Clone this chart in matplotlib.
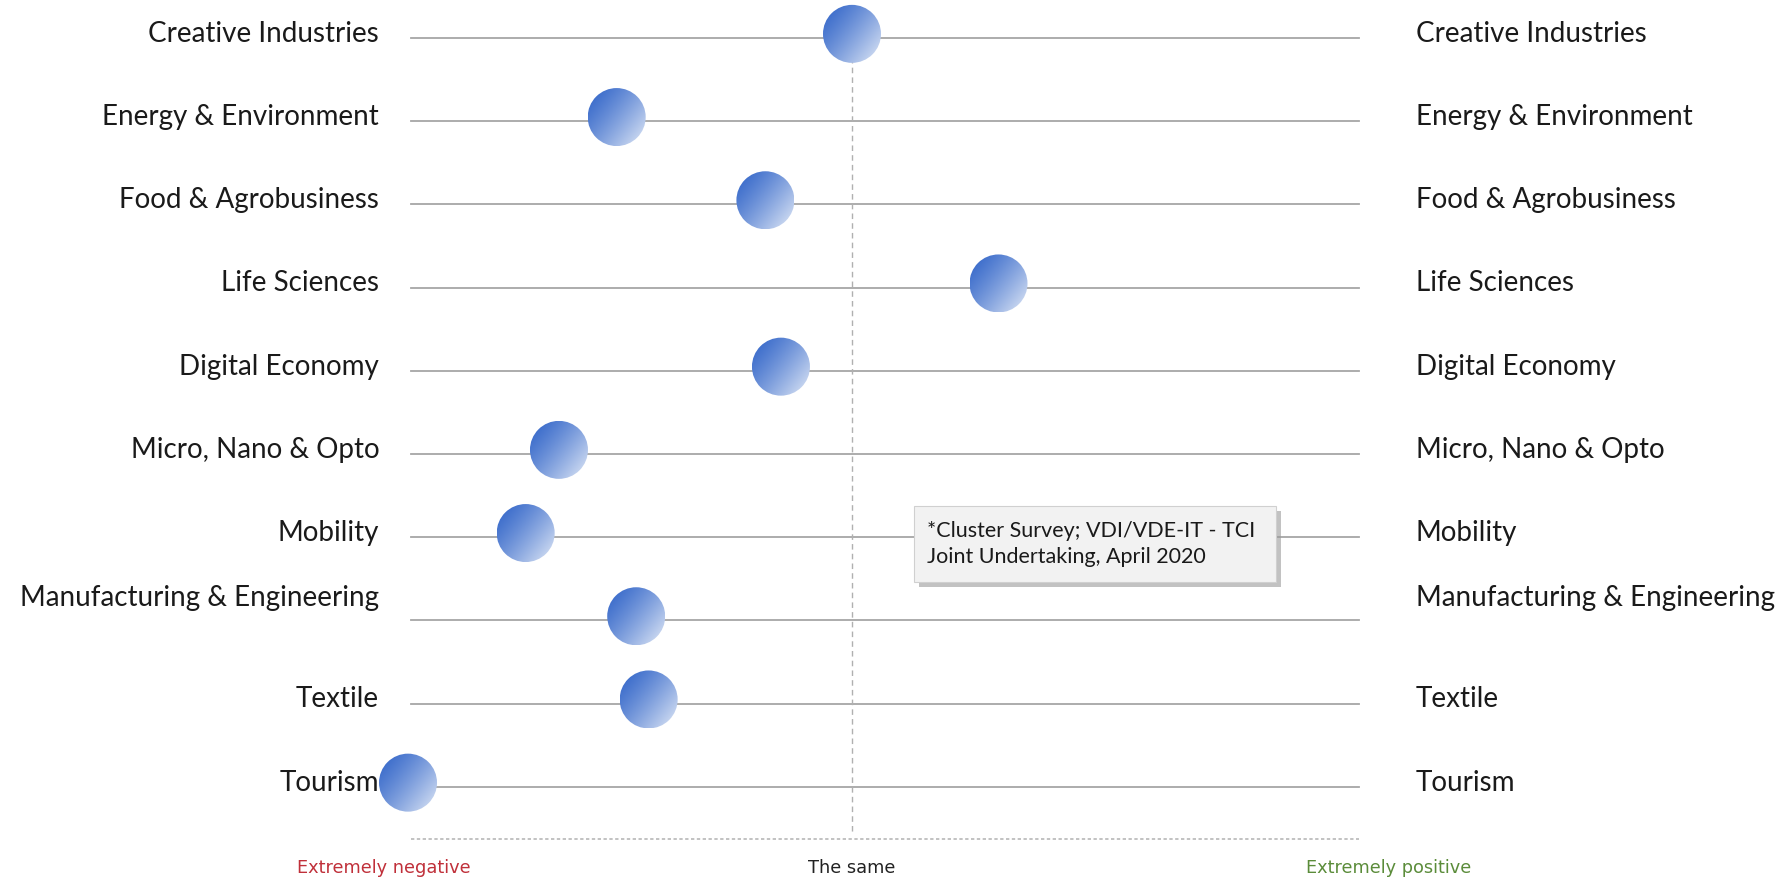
import matplotlib.pyplot as plt
import matplotlib.patches as mpatches
import numpy as np

# --- data ---
sectors = [
    "Creative Industries",
    "Energy & Environment",
    "Food & Agrobusiness",
    "Life Sciences",
    "Digital Economy",
    "Micro, Nano & Opto",
    "Mobility",
    "Manufacturing & Engineering",
    "Textile",
    "Tourism",
]
# impact score: -1 = extremely negative, 0 = the same, +1 = extremely positive
impact = [0.0, -0.53, -0.195, 0.33, -0.16, -0.66, -0.735, -0.486, -0.458, -1.0]
scale_labels = ["Extremely negative", "The same", "Extremely positive"]
scale_values = [-1.054, 0.0, 1.208]
scale_colors = ["#c0303a", "#222222", "#5b8c3a"]
source_note = "*Cluster Survey; VDI/VDE-IT - TCI\nJoint Undertaking, April 2020"

plt.rcParams["font.family"] = ["Lato", "DejaVu Sans"]

W, H, DPI = 1791, 880, 100
fig = plt.figure(figsize=(W / DPI, H / DPI), dpi=DPI)
ax = fig.add_axes([0, 0, 1, 1])
ax.set_xlim(-1.919, 2.115)
ax.set_ylim(10.12, -0.457)
ax.axis("off")

n = len(sectors)
rows = np.arange(n)
x_lo, x_hi = -0.993, 1.142

# horizontal guide lines
for r in rows:
    ax.plot([x_lo, x_hi], [r, r], color="#a6a6a6", lw=1.3, zorder=1)

# centre dashed line and bottom dotted line
ax.plot([0, 0], [0, n - 0.45], color="#b0b0b0", lw=1.0, ls=(0, (4, 3)), zorder=1)
ax.plot([x_lo, x_hi], [n - 0.37, n - 0.37], color="#b8b8b8", lw=1.2,
        ls=(0, (2, 1.5)), zorder=1)

# labels on both sides
label_shift = {"Manufacturing & Engineering": -0.27}
for r, name in zip(rows, sectors):
    dy = label_shift.get(name, -0.05)
    ax.text(-1.065, r + dy, name, ha="right", va="center", fontsize=20,
            color="#1a1a1a")
    ax.text(1.27, r + dy, name, ha="left", va="center", fontsize=20,
            color="#1a1a1a")

# gradient bubbles (circle in pixels, converted to data units)
rad_px = 29
dx = rad_px * (ax.get_xlim()[1] - ax.get_xlim()[0]) / W
dy_ = rad_px * abs(ax.get_ylim()[0] - ax.get_ylim()[1]) / H
g = np.linspace(0, 1, 120)
gx, gy = np.meshgrid(g, g)
t = np.clip((gx * 0.75 + gy * 0.6) / 1.35, 0, 1)
c0 = np.array([0x33, 0x66, 0xc9]) / 255
c1 = np.array([0xe2, 0xea, 0xf7]) / 255
t = t ** 1.3
grad = c0[None, None, :] * (1 - t[..., None]) + c1[None, None, :] * t[..., None]

for r, v in zip(rows, impact):
    yc = r - 0.05
    circ = mpatches.Ellipse((v, yc), 2 * dx, 2 * dy_, facecolor="none",
                            edgecolor="none", zorder=3)
    ax.add_patch(circ)
    im = ax.imshow(grad, extent=(v - dx, v + dx, yc + dy_, yc - dy_),
                   origin="upper", zorder=3, interpolation="bilinear",
                   aspect="auto")
    im.set_clip_path(circ)

# scale labels
for lab, v, c in zip(scale_labels, scale_values, scale_colors):
    ax.text(v, n - 0.02, lab, ha="center", va="center", fontsize=12.8, color=c,
            family=["DejaVu Sans"])

# source note box with shadow
bx0, by0 = 0.14, 5.62
bw, bh = 0.815, 0.92
shadow = mpatches.Rectangle((bx0 + 0.012, by0 + 0.06), bw, bh, facecolor="#9a9a9a",
                            edgecolor="none", alpha=0.6, zorder=4)
ax.add_patch(shadow)
box = mpatches.Rectangle((bx0, by0), bw, bh, facecolor="#f2f2f2",
                         edgecolor="#d0d0d0", lw=0.8, zorder=5)
ax.add_patch(box)
ax.text(bx0 + 0.03, by0 + bh / 2, source_note, ha="left", va="center",
        fontsize=15.5, color="#1a1a1a", linespacing=1.35, zorder=6)

fig.savefig("out.png", dpi=DPI)
